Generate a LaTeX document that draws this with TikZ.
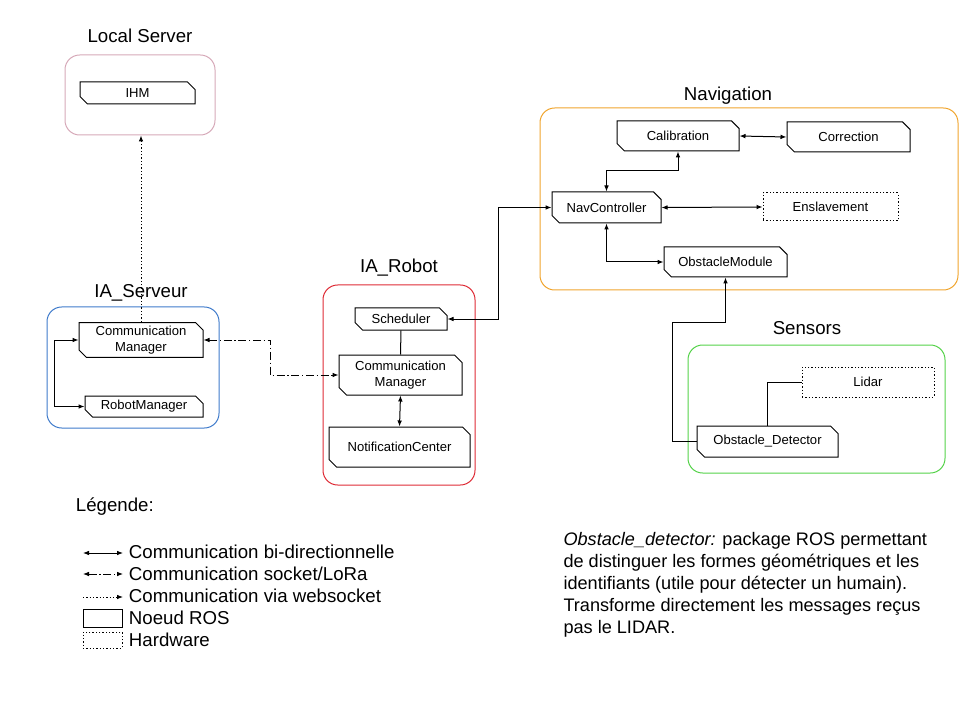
\documentclass[tikz,border=0pt]{standalone}
\usepackage{fontspec}
\setmainfont{Liberation Sans}
\usetikzlibrary{shapes.misc,arrows.meta}
\definecolor{lspink}{HTML}{D6A9B8}
\definecolor{srvblue}{HTML}{3F7BCB}
\definecolor{robred}{HTML}{DE2B35}
\definecolor{navorange}{HTML}{F0A52E}
\definecolor{sensgreen}{HTML}{55D24A}
\begin{document}
\begin{tikzpicture}[x=0.75pt,y=-0.75pt,line width=0.75pt,
  >={Latex[length=4.5pt,width=3.5pt]},
  ros node/.style={chamfered rectangle,chamfered rectangle corners={north east,south west},
    chamfered rectangle xsep=2.8pt,chamfered rectangle ysep=2.8pt,draw,inner sep=0pt,
    align=center,font=\fontsize{9.8}{11.5}\selectfont},
  hw node/.style={rectangle,draw,dash pattern=on 1pt off 1.5pt,inner sep=0pt,
    font=\fontsize{9.8}{11.5}\selectfont},
  group box/.style={rectangle,draw,rounded corners=11pt,line width=0.75pt},
  group title/.style={font=\fontsize{14}{16}\selectfont},
  legend text/.style={anchor=west,font=\fontsize{14}{16}\selectfont},
  sock/.style={dash pattern=on 6pt off 2pt on 1pt off 2pt},
  web/.style={dash pattern=on 1pt off 1.5pt}]

  \useasboundingbox (0,0) rectangle (960,720);

  \node[group box,draw=lspink,minimum width=150*0.75pt,minimum height=80*0.75pt] (locsrv) at (140,95) {};
  \node[group box,draw=srvblue,minimum width=172*0.75pt,minimum height=121*0.75pt] (iasrv) at (133,367.5) {};
  \node[group box,draw=robred,minimum width=152*0.75pt,minimum height=200*0.75pt] (iarob) at (399,385) {};
  \node[group box,draw=navorange,minimum width=418*0.75pt,minimum height=182*0.75pt] (nav) at (749,199) {};
  \node[group box,draw=sensgreen,minimum width=257*0.75pt,minimum height=128*0.75pt] (sens) at (816.5,409) {};

  \node[group title] (tlocsrv) at (140,36) {Local Server};
  \node[group title] (tiasrv) at (141,293) {IA\_Serveur};
  \node[group title] (tiarob) at (399,268) {IA\_Robot};
  \node[group title] (tnav) at (728,96) {Navigation};
  \node[group title] (tsens) at (807,328) {Sensors};

  \node[ros node,minimum width=115*0.75pt,minimum height=22*0.75pt] (ihm) at (137.5,93) {IHM};
  \node[ros node,minimum width=124*0.75pt,minimum height=30*0.75pt] (srvcomm) at (141,340) {Communication\\Manager};
  \node[ros node,minimum width=118*0.75pt,minimum height=21*0.75pt] (robmgr) at (144,406.5) {RobotManager};
  \node[ros node,minimum width=92*0.75pt,minimum height=22*0.75pt] (sched) at (401,319) {Scheduler};
  \node[ros node,minimum width=123*0.75pt,minimum height=40*0.75pt] (robcomm) at (400.5,375) {Communication\\Manager};
  \node[ros node,minimum width=141*0.75pt,minimum height=40*0.75pt] (notif) at (399.5,447) {NotificationCenter};
  \node[ros node,minimum width=122*0.75pt,minimum height=30*0.75pt] (calib) at (678,136) {Calibration};
  \node[ros node,minimum width=123*0.75pt,minimum height=30*0.75pt] (corr) at (848.5,137) {Correction};
  \node[ros node,minimum width=109*0.75pt,minimum height=31*0.75pt] (navctrl) at (606.5,207.5) {NavController};
  \node[hw node,minimum width=135*0.75pt,minimum height=28*0.75pt] (ensl) at (830.5,207) {Enslavement};
  \node[ros node,minimum width=123*0.75pt,minimum height=30*0.75pt] (obsmod) at (725.5,262) {ObstacleModule};
  \node[hw node,minimum width=132*0.75pt,minimum height=30*0.75pt] (lidar) at (868,382) {Lidar};
  \node[ros node,minimum width=141*0.75pt,minimum height=31*0.75pt] (obsdet) at (767.5,441.5) {Obstacle\_Detector};

  \coordinate (obsbend) at (672,322);

  \draw[web,->] (srvcomm.north) -- (srvcomm.north |- locsrv.south);
  \draw[<->] (srvcomm.west) -- ++(-24,0) |- (robmgr.west);
  \draw[sock,<->] (srvcomm.east) -- ++(67,0) |- (robcomm.west);
  \draw (sched.south) -- (robcomm.north);
  \draw[<->] (robcomm.south) -- (notif.north);
  \draw[<->] (sched.east) -- ++(51,0) |- (navctrl.west);
  \draw[<->] (navctrl.north) -- ++(0,-21) -| (calib.south);
  \draw[<->] (calib.east) -- (corr.west);
  \draw[<->] (navctrl.east) -- (ensl.west);
  \draw[<->] (navctrl.south) |- (obsmod.west);
  \draw[->] (obsdet.west) -| (obsbend) -| (obsmod.south);
  \draw (obsdet.north) |- (lidar.west);

  \node[legend text] (leg) at (71,507) {Légende:};
  \coordinate (l1a) at (83,553);  \coordinate (l1b) at (123,553);
  \coordinate (l2a) at (83,574);  \coordinate (l2b) at (123,574);
  \coordinate (l3a) at (83,597);  \coordinate (l3b) at (123,597);
  \draw[<->] (l1a) -- (l1b);
  \draw[sock,<->] (l2a) -- (l2b);
  \draw[web,->] (l3a) -- (l3b);
  \node[ros node,minimum width=39*0.75pt,minimum height=18*0.75pt] (legros) at (102.5,618) {};
  \node[hw node,minimum width=39*0.75pt,minimum height=16*0.75pt] (leghw) at (102.5,640) {};
  \node[legend text] (t1) at (124,552) {Communication bi-directionnelle};
  \node[legend text] (t2) at (124,574) {Communication socket/LoRa};
  \node[legend text] (t3) at (124,596) {Communication via websocket};
  \node[legend text] (t4) at (124,618) {Noeud ROS};
  \node[legend text] (t5) at (124,640) {Hardware};

  \node[anchor=north west,align=left,inner sep=0pt,font=\fontsize{13.6}{16.5}\selectfont] (note) at (563,532)
    {\textit{Obstacle\_detector:} package ROS permettant\\
     de distinguer les formes géométriques et les\\
     identifiants (utile pour détecter un humain).\\
     Transforme directement les messages reçus\\
     pas le LIDAR.};
\end{tikzpicture}
\end{document}
